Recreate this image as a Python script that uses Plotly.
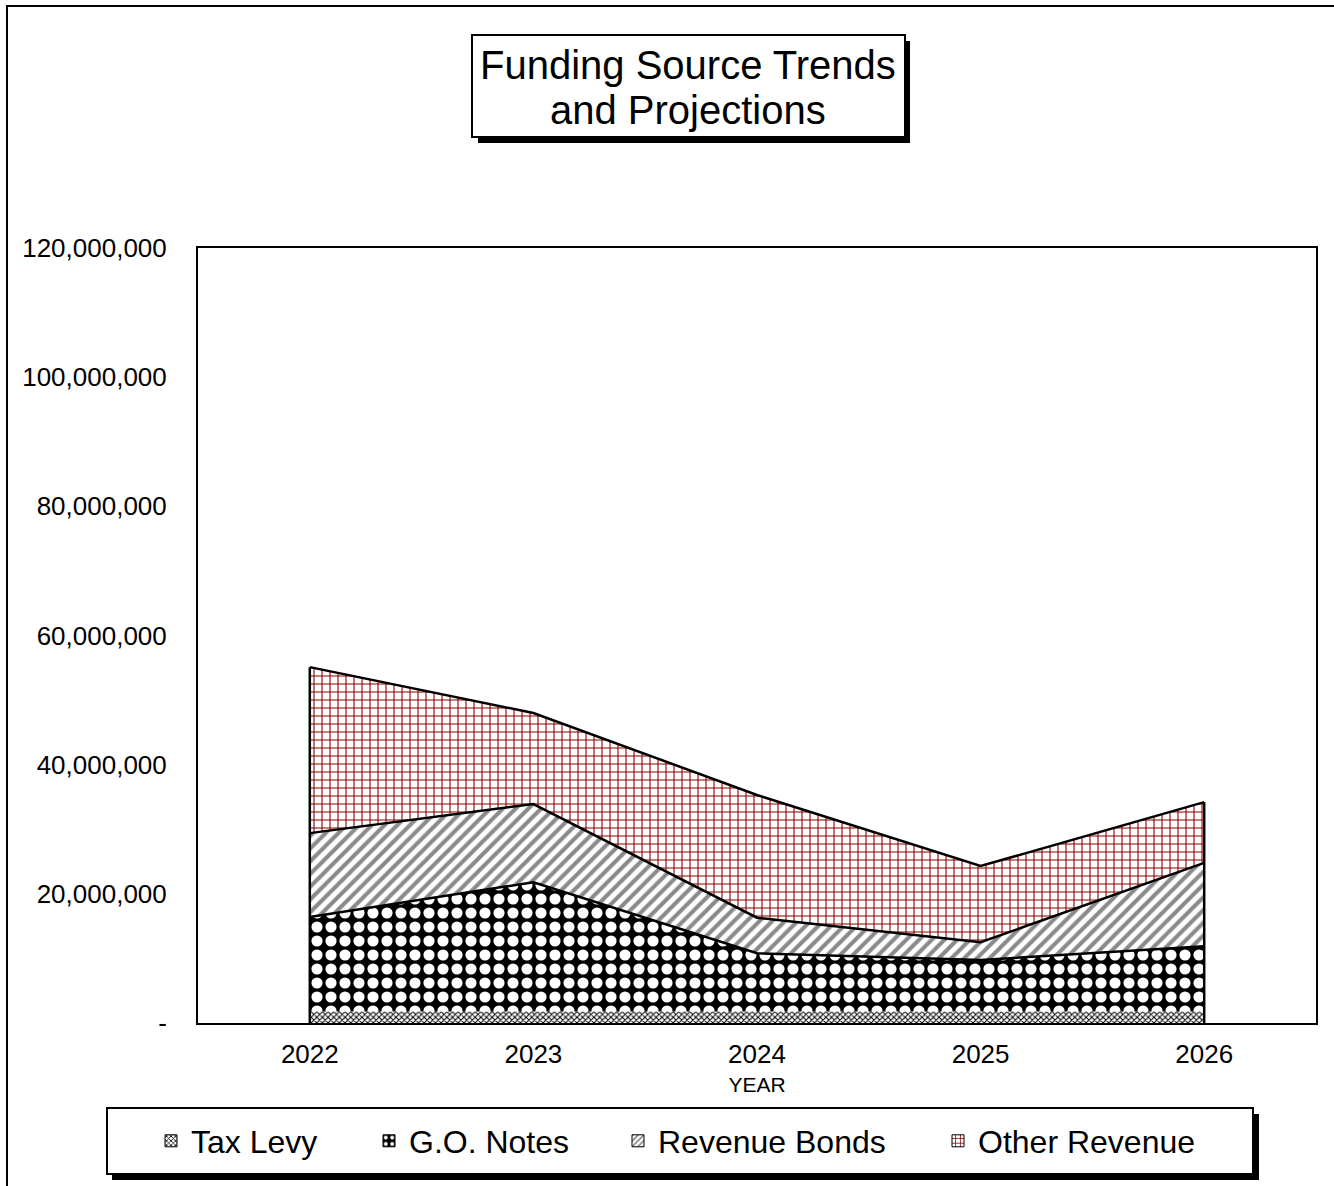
import plotly.graph_objects as go

# Funding sources by year (dollars), stacked bottom to top
years = ["2022", "2023", "2024", "2025", "2026"]
tax_levy = [1_800_000, 1_800_000, 1_800_000, 1_800_000, 1_800_000]
go_notes = [14_600_000, 20_000_000, 9_000_000, 7_950_000, 10_100_000]
revenue_bonds = [13_000_000, 12_100_000, 5_500_000, 2_750_000, 12_900_000]
other_revenue = [25_700_000, 14_100_000, 19_000_000, 11_800_000, 9_400_000]

y_ticks = [0, 20_000_000, 40_000_000, 60_000_000, 80_000_000, 100_000_000, 120_000_000]
y_tick_text = ["-" if v == 0 else f"{v:,}" for v in y_ticks]

title_lines = ["Funding Source Trends", "and Projections"]

W, H = 1334, 1186
L, R, T, B = 198, 18, 248, 163
PW, PH = W - L - R, H - T - B


def px(x):
    return (x - L) / PW


def py(y):
    return (H - B - y) / PH


FONT = "Liberation Sans, Arial, sans-serif"

# name, values, area pattern, legend swatch pattern, outline width, legend text left edge (px)
series = [
    ("Tax Levy", tax_levy,
     dict(shape="x", fgcolor="black", bgcolor="white", size=4, solidity=0.45, fgopacity=1),
     dict(shape="x", fgcolor="black", bgcolor="white", size=4, solidity=0.45, fgopacity=1),
     0, 193),
    ("G.O. Notes", go_notes,
     dict(shape=".", fgcolor="white", bgcolor="black", size=14, solidity=0.5, fgopacity=1),
     dict(shape=".", fgcolor="white", bgcolor="black", size=8, solidity=0.3, fgopacity=1),
     2.5, 411),
    ("Revenue Bonds", revenue_bonds,
     dict(shape="/", fgcolor="#8a8a8a", bgcolor="white", size=9, solidity=0.45, fgopacity=1),
     dict(shape="/", fgcolor="#8a8a8a", bgcolor="white", size=5, solidity=0.45, fgopacity=1),
     2.5, 660),
    ("Other Revenue", other_revenue,
     dict(shape="+", fgcolor="#8b0000", bgcolor="white", size=8, solidity=0.25, fgopacity=1),
     dict(shape="+", fgcolor="#8b0000", bgcolor="white", size=6, solidity=0.3, fgopacity=1),
     2.5, 980),
]

fig = go.Figure()
for name, vals, pat, _, lw, _ in series:
    fig.add_trace(go.Scatter(
        x=years, y=vals, name=name, mode="lines",
        stackgroup="funding", fillpattern=pat, fillcolor=pat["bgcolor"],
        line=dict(color="black", width=lw if lw else 0.01),
        showlegend=False,
    ))

# vertical edges of the stacked area at the first and last year
totals = [a + b + c + d for a, b, c, d in zip(tax_levy, go_notes, revenue_bonds, other_revenue)]
for i in (0, len(years) - 1):
    fig.add_trace(go.Scatter(
        x=[years[i], years[i]], y=[0, totals[i]], mode="lines",
        line=dict(color="black", width=2.5), showlegend=False, hoverinfo="skip",
    ))

# legend entries: square patterned swatches, one legend per entry
legends = {}
for k, (name, vals, pat, lpat, lw, text_x) in enumerate(series):
    lid = "legend" if k == 0 else f"legend{k + 1}"
    fig.add_trace(go.Bar(
        x=[None], y=[None], name=name, legend=lid, showlegend=True,
        marker=dict(color=lpat["bgcolor"], line=dict(color="black", width=1), pattern=lpat),
    ))
    legends[lid] = dict(
        x=px(text_x - 42), y=py(1141), xanchor="left", yanchor="middle",
        bgcolor="rgba(0,0,0,0)", borderwidth=0,
        font=dict(size=32, family=FONT, color="black"), itemwidth=30,
    )

shapes = [
    # outer frame
    dict(type="rect", xref="paper", yref="paper", x0=px(7), x1=px(1345), y0=py(1200), y1=py(6),
         line=dict(color="black", width=2), fillcolor="rgba(0,0,0,0)", layer="below"),
    # title box shadow and box
    dict(type="rect", xref="paper", yref="paper", x0=px(478), x1=px(910), y0=py(143), y1=py(41),
         line=dict(width=0), fillcolor="black", layer="below"),
    dict(type="rect", xref="paper", yref="paper", x0=px(472), x1=px(905), y0=py(137), y1=py(35),
         line=dict(color="black", width=2), fillcolor="white", layer="below"),
    # legend box shadow and box
    dict(type="rect", xref="paper", yref="paper", x0=px(112), x1=px(1259), y0=py(1180), y1=py(1114),
         line=dict(width=0), fillcolor="black", layer="below"),
    dict(type="rect", xref="paper", yref="paper", x0=px(107), x1=px(1253), y0=py(1174), y1=py(1108),
         line=dict(color="black", width=2), fillcolor="white", layer="below"),
]

# title, one annotation per line for tight line spacing
annotations = [
    dict(text=line, xref="paper", yref="paper", x=px(688), y=py(yc),
         xanchor="center", yanchor="middle", showarrow=False,
         font=dict(size=40, family=FONT, color="black"))
    for line, yc in zip(title_lines, (65, 110))
]

fig.update_layout(
    width=W, height=H,
    margin=dict(l=L, r=R, t=T, b=B),
    paper_bgcolor="white", plot_bgcolor="white",
    font=dict(family=FONT, color="black"),
    shapes=shapes,
    annotations=annotations,
    showlegend=True,
    xaxis=dict(
        type="category", range=[-0.5, 4.5], showgrid=False, zeroline=False,
        showline=True, linecolor="black", linewidth=2, mirror=True,
        ticks="", tickfont=dict(size=26), ticklabelstandoff=7,
        title=dict(text="YEAR", font=dict(size=21), standoff=9),
    ),
    yaxis=dict(
        range=[0, 120_000_000], tickvals=y_ticks, ticktext=y_tick_text,
        showgrid=False, zeroline=False, showline=True, linecolor="black", linewidth=2, mirror=True,
        ticks="", tickfont=dict(size=26), ticklabelstandoff=24,
    ),
    **legends,
)

fig.write_html("out.html")
